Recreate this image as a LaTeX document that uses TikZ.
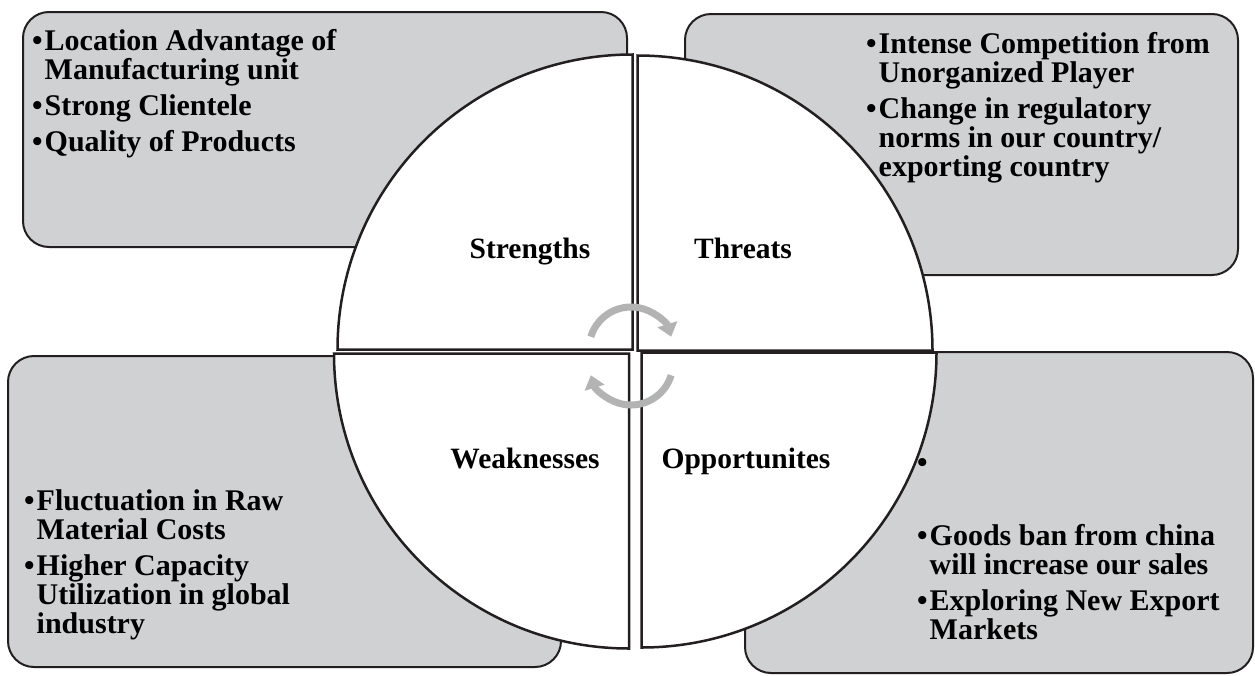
\documentclass[tikz,border=0pt]{standalone}
\usepackage{fontspec}
\setmainfont{Liberation Serif}
\usetikzlibrary{arrows.meta}
\definecolor{boxgray}{HTML}{D0D1D3}
\definecolor{arrgray}{HTML}{B3B3B3}
\definecolor{edge}{HTML}{231F20}
\newcommand{\bul}{\textbullet\hspace{2pt}}
\newcommand{\ind}{\phantom{\textbullet}\hspace{2pt}}
\begin{document}
\begin{tikzpicture}[x=1pt,y=-1pt,
  swbox/.style={draw=edge, line width=2pt, fill=boxgray, rounded corners=26pt},
  quad/.style={draw=edge, line width=2.5pt, fill=white, line join=miter},
  cyc/.style={draw=arrgray, line width=7pt, -{Triangle[length=13pt,width=20pt]}},
  lbl/.style={font=\fontsize{29.5}{29}\selectfont\bfseries, inner sep=0pt, anchor=base},
  txt/.style={font=\fontsize{30}{29}\selectfont\bfseries, inner sep=0pt, align=left, anchor=base west},
]
\useasboundingbox (0,0) rectangle (1255,675);
\fill[white] (0,0) rectangle (1255,675);
% boxes
\draw[swbox] (23,12) rectangle (627,247);
\draw[swbox] (685,14) rectangle (1238,275);
\draw[swbox] (8,356) rectangle (561,667);
\draw[swbox] (745,352) rectangle (1253,673);
% quadrants
\draw[quad] (632.5,349.5) -- ++(0,-295) arc[start angle=-90, end angle=-180, radius=295] -- cycle;
\draw[quad] (637.5,350.5) -- ++(0,-295) arc[start angle=-90, end angle=0, radius=295] -- cycle;
\draw[quad] (629,353.5) -- ++(-295,0) arc[start angle=180, end angle=90, radius=295] -- cycle;
\draw[quad] (641.5,352.5) -- ++(0,295) arc[start angle=90, end angle=0, radius=295] -- cycle;
% cycle arrows
\coordinate (cu) at (631,349);
\coordinate (cl) at (631,363);
\draw[cyc] (cu) ++(197:42) arc[start angle=197, end angle=343, radius=42];
\draw[cyc] (cl) ++(17:42) arc[start angle=17, end angle=163, radius=42];
% labels
\node[lbl] (S) at (530,258) {Strengths};
\node[lbl] (T) at (743,258) {Threats};
\node[lbl] (W) at (525,468) {Weaknesses};
\node[lbl] (O) at (746,468) {Opportunites};
% texts (anchored at the baseline of the last line)
\node[txt] (st) at (32,151) {\bul Location Advantage of\\\ind Manufacturing unit\\[7pt]\bul Strong Clientele\\[7pt]\bul Quality of Products};
\node[txt] (tt) at (866,176) {\bul Intense Competition from\\\ind Unorganized Player\\[7pt]\bul Change in regulatory\\\ind norms in our country/\\\ind exporting country};
\node[txt] (wt) at (24,633) {\bul Fluctuation in Raw\\\ind Material Costs\\[7pt]\bul Higher Capacity\\\ind Utilization in global\\\ind industry};
\node[txt] (ob) at (917,472) {\bul};
\node[txt] (ot) at (917,639) {\bul Goods ban from china\\\ind will increase our sales\\[7pt]\bul Exploring New Export\\\ind Markets};
\end{tikzpicture}
\end{document}
